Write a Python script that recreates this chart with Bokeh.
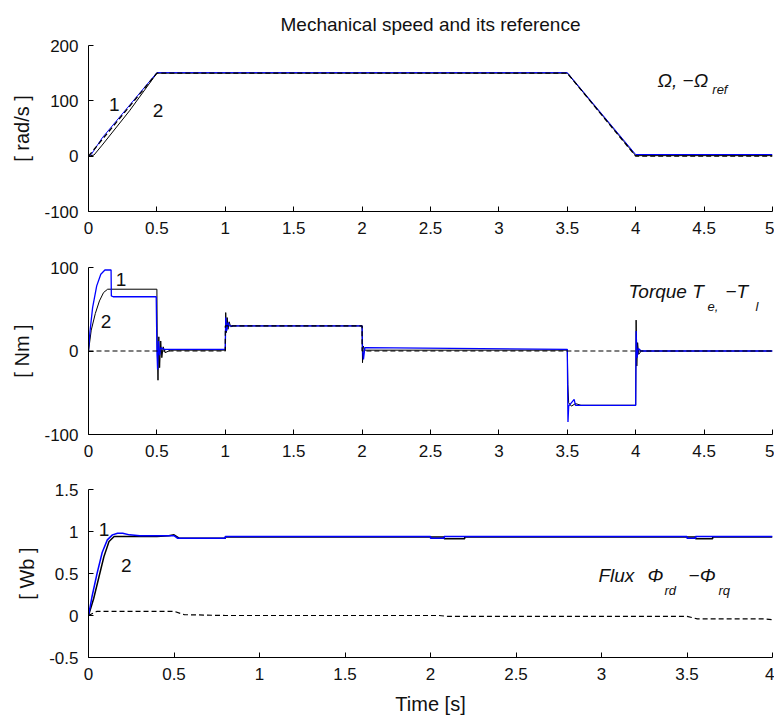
from bokeh.plotting import figure
from bokeh.layouts import column
from bokeh.models import Range1d, FixedTicker, Label
from bokeh.embed import file_html
from bokeh.resources import INLINE

FONT = "Liberation Sans"

# ---------------- data: mechanical speed ----------------
t_wref = [0.0, 0.5, 3.5, 4.0, 5.0]
w_ref = [0, 150, 150, 0, 0]
t_w1 = [0.0, 0.02, 0.1, 0.3, 0.5, 3.5, 4.0, 5.0]
w_1 = [0, 3, 33, 92, 151, 151, 3, 3]
t_w2 = [0.0, 0.04, 0.1, 0.3, 0.5, 3.5, 4.0, 5.0]
w_2 = [0, 2, 20, 82, 150, 150, 1, 1]

# ---------------- data: torque ----------------
t_tl = [0, 1, 1, 2, 2, 5]
tl = [0, 0, 30, 30, 0, 0]
t_te1 = [0, 0.01, 0.03, 0.06, 0.09, 0.12, 0.14, 0.165, 0.167, 0.18,
         0.495, 0.5, 0.505, 0.512, 0.52, 0.53, 0.55, 1.0, 1.003, 1.01,
         1.02, 1.03, 1.05, 2.0, 2.003, 2.01, 2.02,
         3.5, 3.505, 3.51, 3.55, 3.56, 3.58, 4.0, 4.003, 4.01, 4.02, 4.04, 5.0]
te1 = [0, 22, 52, 78, 92, 97, 97, 97, 66, 65,
       65, 2, -22, 12, -5, 4, 2, 2, 40, 24,
       34, 30, 30, 30, 2, -10, 4,
       2, -85, -66, -58, -65, -65, -65, 24, -8, 3, 0, 0]
t_te2 = [0, 0.02, 0.05, 0.08, 0.11, 0.14, 0.5, 0.503, 0.508, 0.514,
         0.52, 0.528, 0.536, 0.546, 0.56, 0.6, 1.0, 1.003, 1.008, 1.014,
         1.02, 1.028, 1.04, 1.06, 2.0, 2.003, 2.008, 2.02, 3.5, 3.504,
         3.51, 3.53, 3.56, 3.6, 4.0, 4.003, 4.008, 4.014, 4.022, 4.04, 5.0]
te2 = [0, 25, 45, 60, 70, 74, 74, 0, -35, 17,
       -20, 12, -8, 5, -2, 1, 1, 46, 22, 40,
       26, 35, 29, 30, 30, -14, 6, 1, 1, -40,
       -62, -66, -63, -65, -65, 37, -18, 10, -4, 0, 0]

# ---------------- data: flux ----------------
t_f1 = [0, 0.02, 0.05, 0.08, 0.11, 0.14, 0.17, 0.2, 0.24, 0.3, 0.5, 0.52,
        0.8, 0.8, 2.0, 2.0, 2.08, 2.08, 3.5, 3.5, 3.55, 3.55, 4.0]
f1 = [0, 0.22, 0.5, 0.75, 0.9, 0.96, 0.98, 0.98, 0.96, 0.95, 0.95, 0.92,
      0.92, 0.94, 0.94, 0.92, 0.92, 0.94, 0.94, 0.92, 0.92, 0.94, 0.94]
t_f2 = [0, 0.03, 0.06, 0.09, 0.12, 0.15, 0.4, 0.47, 0.5, 0.53, 0.8, 0.8,
        2.08, 2.08, 2.2, 2.2, 3.55, 3.55, 3.65, 3.65, 4.0]
f2 = [0, 0.2, 0.45, 0.7, 0.88, 0.94, 0.94, 0.95, 0.96, 0.92, 0.92, 0.935,
      0.935, 0.915, 0.915, 0.935, 0.935, 0.915, 0.915, 0.935, 0.935]
t_fq = [0, 0.05, 0.5, 0.56, 0.8, 2.05, 2.1, 3.5, 3.56, 3.95, 4.0]
fq = [0, 0.05, 0.05, 0.01, 0.0, 0.0, -0.01, -0.01, -0.04, -0.04, -0.05]

# ---------------- ticks ----------------
x_ticks5 = [0, 0.5, 1, 1.5, 2, 2.5, 3, 3.5, 4, 4.5, 5]
x_labels5 = ["0", "0.5", "1", "1.5", "2", "2.5", "3", "3.5", "4", "4.5", "5"]
x_ticks4 = [0, 0.5, 1, 1.5, 2, 2.5, 3, 3.5, 4]
x_labels4 = ["0", "0.5", "1", "1.5", "2", "2.5", "3", "3.5", "4"]
y_ticks1 = [-100, 0, 100, 200]
y_labels1 = ["-100", "0", "100", "200"]
y_ticks2 = [-100, 0, 100]
y_labels2 = ["-100", "0", "100"]
y_ticks3 = [-0.5, 0, 0.5, 1, 1.5]
y_labels3 = ["-0.5", "0", "0.5", "1", "1.5"]

BLUE = "#0000FF"
BLACK = "#000000"
TXT = "#111111"


def make_fig(height, top, bottom, xr, yr, xt, xl, yt, yl, ylabel):
    p = figure(width=774, height=height, output_backend="svg", toolbar_location=None,
               x_range=Range1d(*xr), y_range=Range1d(*yr),
               min_border_left=88, min_border_right=2,
               min_border_top=top, min_border_bottom=bottom)
    p.outline_line_color = None
    p.grid.visible = False
    p.background_fill_color = "white"
    p.border_fill_color = "white"
    for ax, ticks, labels in ((p.xaxis[0], xt, xl), (p.yaxis[0], yt, yl)):
        ax.ticker = FixedTicker(ticks=ticks, minor_ticks=[])
        ax.major_label_overrides = {t: s for t, s in zip(ticks, labels)}
        ax.major_tick_in = 5
        ax.major_tick_out = 0
        ax.minor_tick_line_color = None
        ax.axis_line_color = BLACK
        ax.major_tick_line_color = BLACK
        ax.major_label_text_font = FONT
        ax.major_label_text_font_size = "17px"
        ax.major_label_text_color = TXT
        ax.major_label_standoff = 10
    p.yaxis.axis_label = ylabel
    p.yaxis.axis_label_text_font = FONT
    p.yaxis.axis_label_text_font_size = "20px"
    p.yaxis.axis_label_text_font_style = "normal"
    p.yaxis.axis_label_text_color = TXT
    p.yaxis.axis_label_standoff = 8
    return p


def lab(p, x, y, text, size="19px", italic=True):
    p.add_layout(Label(x=x, y=y, text=text, text_font=FONT, text_font_size=size,
                       text_font_style="italic" if italic else "normal",
                       text_color=TXT, text_baseline="middle", text_align="left"))


# ---------------- panel 1 ----------------
p1 = make_fig(239, 45, 28, (0, 5), (-100, 200), x_ticks5, x_labels5, y_ticks1, y_labels1, "[ rad/s ]")
p1.title.text = "Mechanical speed and its reference"
p1.title.align = "center"
p1.title.text_font = FONT
p1.title.text_font_size = "19px"
p1.title.text_font_style = "normal"
p1.title.text_color = TXT
p1.title.standoff = 22
p1.line(t_w2, w_2, color=BLACK, line_width=1)
p1.line(t_w1, w_1, color=BLUE, line_width=1)
p1.line(t_wref, w_ref, color=BLACK, line_width=1.3, line_dash="5 3")
lab(p1, 0.15, 94, "1", "19px", False)
lab(p1, 0.47, 82, "2", "19px", False)
lab(p1, 4.16, 136, "\u03a9, \u2212\u03a9", "19px")
lab(p1, 4.56, 120, "ref", "13px")

# ---------------- panel 2 ----------------
p2 = make_fig(222, 28, 27, (0, 5), (-100, 100), x_ticks5, x_labels5, y_ticks2, y_labels2, "[ Nm ]")
p2.line(t_te2, te2, color=BLACK, line_width=1)
p2.line(t_te1, te1, color=BLUE, line_width=1.3)
p2.line(t_tl, tl, color=BLACK, line_width=1.2, line_dash="5 3")
lab(p2, 0.2, 86, "1", "19px", False)
lab(p2, 0.09, 35, "2", "19px", False)
lab(p2, 3.947, 71, "Torque T", "19px")
lab(p2, 4.525, 53, "e,", "13px")
lab(p2, 4.656, 71, "\u2212T", "19px")
lab(p2, 4.876, 53, "l", "13px")

# ---------------- panel 3 ----------------
p3 = make_fig(257, 28, 61, (0, 4), (-0.5, 1.5), x_ticks4, x_labels4, y_ticks3, y_labels3, "[ Wb ]")
p3.xaxis.axis_label = "Time [s]"
p3.xaxis.axis_label_text_font = FONT
p3.xaxis.axis_label_text_font_size = "20px"
p3.xaxis.axis_label_text_font_style = "normal"
p3.xaxis.axis_label_text_color = TXT
p3.xaxis.axis_label_standoff = 10
p3.line(t_f2, f2, color=BLACK, line_width=1.5)
p3.line(t_f1, f1, color=BLUE, line_width=1.5)
p3.line(t_fq, fq, color=BLACK, line_width=1.2, line_dash="5 3")
lab(p3, 0.06, 1.02, "1", "19px", False)
lab(p3, 0.19, 0.60, "2", "19px", False)
lab(p3, 2.982, 0.48, "Flux", "19px")
lab(p3, 3.269, 0.48, "\u03a6", "19px")
lab(p3, 3.368, 0.30, "rd", "13px")
lab(p3, 3.509, 0.48, "\u2212\u03a6", "19px")
lab(p3, 3.684, 0.30, "rq", "13px")

layout = column(p1, p2, p3, spacing=0)
open("out.html", "w").write(file_html(layout, INLINE))
